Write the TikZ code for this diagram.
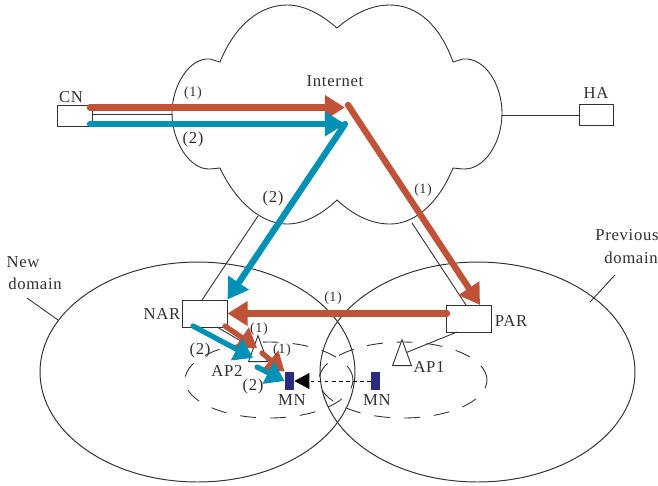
\documentclass[tikz,border=0pt]{standalone}
\usepackage{fontspec}
\setmainfont[LetterSpace=4]{Liberation Serif}
\usetikzlibrary{arrows.meta,shapes.geometric}
\definecolor{flowred}{HTML}{C05238}
\definecolor{flowteal}{HTML}{0091B4}
\definecolor{mnblue}{HTML}{2B2C7F}
\definecolor{inkgrey}{HTML}{303030}
\tikzset{
  link/.style={draw=inkgrey, line width=0.5pt},
  boxnode/.style={draw=inkgrey, fill=white, line width=0.55pt, rectangle, inner sep=0pt},
  domainnode/.style={draw=inkgrey, line width=0.55pt, ellipse, inner sep=0pt, minimum width=6.3cm, minimum height=4.4cm},
  cellnode/.style={draw=inkgrey, line width=0.5pt, dash pattern=on 9pt off 8pt, ellipse, inner sep=0pt, minimum width=3.36cm, minimum height=1.52cm},
  mnnode/.style={rectangle, fill=mnblue, inner sep=0pt, minimum width=0.18cm, minimum height=0.36cm},
  apnode/.style={draw=inkgrey, line width=0.5pt, isosceles triangle, isosceles triangle apex angle=40, shape border rotate=90, inner sep=0pt, minimum height=0.52cm, fill=white},
  txt/.style={text=inkgrey, font=\fontsize{9.5}{11}\selectfont, inner sep=0pt},
  smalltxt/.style={text=inkgrey, font=\fontsize{8}{10}\selectfont, inner sep=0pt},
  bigflow/.style={line width=3.6pt, line cap=round, -{Triangle[length=11.5pt,width=13.5pt]}},
  midflow/.style={line width=3pt, line cap=round, -{Triangle[length=10.5pt,width=13.5pt]}}
}

\begin{document}
\begin{tikzpicture}[x=0.02cm, y=-0.02cm]
  \useasboundingbox (0,0) rectangle (658,485);

  % --- Domains and cells ---
  \node[domainnode] (newdomain) at (197.5,372) {};
  \node[domainnode] (prevdomain) at (477.5,372) {};
  \node[cellnode] (cellleft) at (269,380) {};
  \node[cellnode] (cellright) at (403,380) {};

  % --- Internet cloud ---
  \draw[link, fill=white] (220,62) .. controls (235,25) and (260,5) .. (287,5)
    .. controls (305,5) and (322,15) .. (337,28)
    .. controls (352,15) and (370,5) .. (390,5)
    .. controls (417,5) and (440,25) .. (453,62)
    -- (463,59) .. controls (485,57) and (502,85) .. (502,113)
    .. controls (502,142) and (485,170) .. (463,169) -- (453,168)
    .. controls (440,200) and (417,224) .. (390,224)
    .. controls (370,224) and (352,214) .. (337,200)
    .. controls (322,214) and (305,224) .. (287,224)
    .. controls (260,224) and (235,200) .. (220,168)
    -- (210,169) .. controls (190,170) and (172,142) .. (172,113)
    .. controls (172,85) and (190,57) .. (210,59) -- cycle;

  % --- Routers and hosts ---
  \node[boxnode, minimum width=0.7cm, minimum height=0.42cm] (cn) at (74.5,115.5) {};
  \node[boxnode, minimum width=0.68cm, minimum height=0.42cm] (ha) at (596,114.5) {};
  \node[boxnode, minimum width=0.9cm, minimum height=0.54cm] (nar) at (204.5,313.5) {};
  \node[boxnode, minimum width=0.9cm, minimum height=0.54cm] (par) at (468.5,318.5) {};

  % --- Access points ---
  \node[apnode] (ap2) at (258,355) {};
  \node[apnode] (ap1) at (402,359) {};

  % --- Mobile node ---
  \node[mnnode] (mnnew) at (289.5,381) {};
  \node[mnnode] (mnold) at (375.5,381) {};

  % --- Thin links ---
  \coordinate (cloudw) at (172,114);
  \coordinate (cloude) at (502,115);
  \coordinate (cloudsw) at (258,216);
  \coordinate (cloudse) at (412,223);
  \coordinate (narlink) at (202,300);
  \coordinate (narap) at (217,327);
  \coordinate (parlink) at (466,305);
  \coordinate (parap) at (457,332);
  \coordinate (newtick) at (58,320);
  \coordinate (prevtick) at (590,302);
  \draw[link] (cn.east |- cloudw) -- (cloudw);
  \draw[link] (cloude) -- (ha.west |- cloude);
  \draw[link] (cloudsw) -- (narlink);
  \draw[link] (cloudse) -- (parlink);
  \draw[link] (narap) -- (ap2.left side);
  \draw[link] (parap) -- (ap1.right side);

  % --- Flows (1) ---
  \coordinate (hub1) at (345,107.5);
  \coordinate (hub2) at (345,124);
  \coordinate (hubout) at (348,105);
  \draw[bigflow, flowred] (90,107.5) -- (hub1);
  \draw[bigflow, flowred] (hubout) -- (480,305);
  \draw[bigflow, flowred] (447,313.5) -- (nar.east);
  \draw[midflow, flowred] (225,326) -- (257,348);
  \draw[midflow, flowred] (262,353) -- (mnnew.north west);

  % --- Flows (2) ---
  \draw[bigflow, flowteal] (90,124) -- (hub2);
  \draw[bigflow, flowteal] (hub2) -- (nar.north east);
  \draw[midflow, flowteal] (193,326) -- (253,358);
  \draw[midflow, flowteal] (257,367) -- (mnnew.west);

  % --- Handover move ---
  \draw[black, line width=0.55pt, dash pattern=on 2pt off 2pt, -{Triangle[length=8.5pt,width=9pt]}] (mnold) -- (mnnew);

  % --- Labels ---
  \foreach \x/\y/\n in {193/93/a, 423/190/b, 333/298/c, 259/329/d, 282/350/e} {
    \node[smalltxt] (one\n) at (\x,\y) {(1)};
  }
  \foreach \x/\y/\n in {193/139/a, 273/198/b, 200/350/c, 253/386/d} {
    \node[txt] (two\n) at (\x,\y) {(2)};
  }
  \foreach \x/\y/\n/\t in {71/97/cn/CN, 596/93/ha/HA, 335/81/inet/Internet, 162/314/nar/NAR, 511/321/par/PAR, 227/371/aptwo/AP2, 429/367/apone/AP1, 292/400/mnnew/MN, 377/400/mnold/MN, 23/262/newa/New, 35/284/newb/domain, 627/235/preva/Previous, 631/258/prevb/domain} {
    \node[txt] (lab\n) at (\x,\y) {\t};
  }
  \coordinate (newlab) at (27,298);
  \coordinate (prevlab) at (615,275);
  \draw[link] (newlab) -- (newtick);
  \draw[link] (prevlab) -- (prevtick);
\end{tikzpicture}
\end{document}
